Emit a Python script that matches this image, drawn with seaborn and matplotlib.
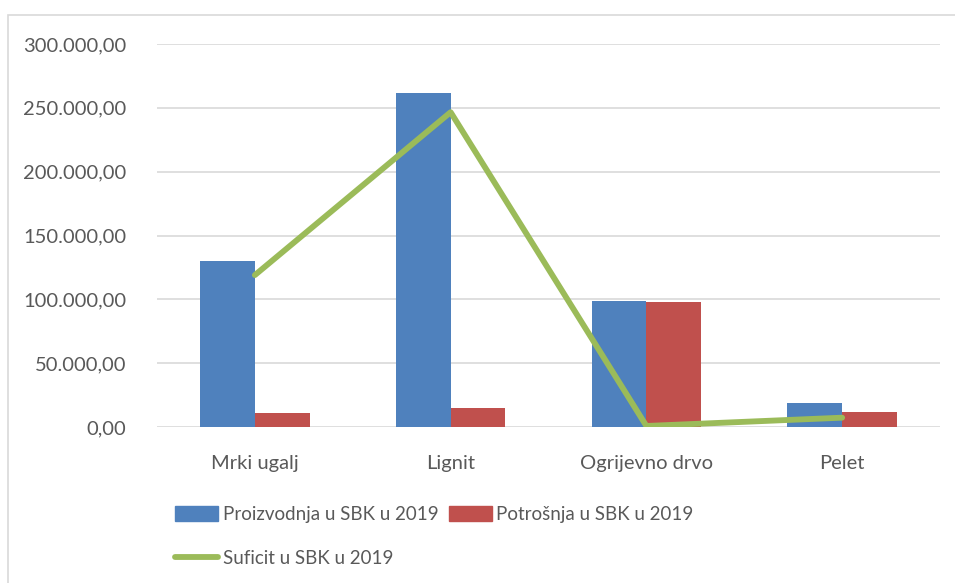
import pandas as pd
import matplotlib
matplotlib.use("Agg")
import matplotlib.pyplot as plt
import seaborn as sns
from matplotlib.patches import Rectangle, Patch
from matplotlib.lines import Line2D
from matplotlib.ticker import FuncFormatter

categories = ["Mrki ugalj", "Lignit", "Ogrijevno drvo", "Pelet"]
proizvodnja = [130000, 261500, 98700, 18800]
potrosnja = [11000, 14900, 97900, 11500]
suficit = [119000, 246600, 800, 7300]

series_names = ["Proizvodnja u SBK u 2019", "Potrošnja u SBK u 2019"]
line_name = "Suficit u SBK u 2019"

df = pd.DataFrame({
    "Kategorija": categories * 2,
    "Vrijednost": proizvodnja + potrosnja,
    "Serija": [series_names[0]] * 4 + [series_names[1]] * 4,
})

sns.set_style("white")
plt.rcParams["font.family"] = ["Lato", "DejaVu Sans"]

grey_text = "#595959"
fig = plt.figure(figsize=(9.55, 5.83), dpi=100)
ax = fig.add_axes([0.1644, 0.2676, 0.8199, 0.6569])

sns.barplot(data=df, x="Kategorija", y="Vrijednost", hue="Serija",
            palette=["#4F81BD", "#C0504D"], width=0.56, saturation=1,
            edgecolor="none", ax=ax, legend=False, zorder=2)
sns.lineplot(x=categories, y=suficit, color="#9BBB59", linewidth=4.2,
             ax=ax, zorder=3, solid_capstyle="round")

ax.set_ylim(0, 300000)
ax.set_yticks(range(0, 300001, 50000))
ax.yaxis.set_major_formatter(FuncFormatter(
    lambda v, p: f"{v:,.2f}".replace(",", "X").replace(".", ",").replace("X", ".")))
ax.set_xlim(-0.5, 3.5)
ax.grid(axis="y", color="#d9d9d9", linewidth=1.2, zorder=0)
ax.set_axisbelow(True)
for s in ax.spines.values():
    s.set_visible(False)
ax.set_xlabel("")
ax.set_ylabel("")
ax.tick_params(axis="both", length=0, labelsize=14.5, colors=grey_text)
ax.tick_params(axis="y", pad=22)
ax.tick_params(axis="x", pad=20)

# legend
handles = [Patch(color="#4F81BD"),
           Line2D([], [], color="#9BBB59", linewidth=4.2, solid_capstyle="round"),
           Patch(color="#C0504D")]
labels = [series_names[0], line_name, series_names[1]]
leg = fig.legend(handles, labels, ncol=2, loc="upper left",
                 bbox_to_anchor=(0.183, 0.132), frameon=False,
                 borderpad=0, borderaxespad=0,
                 fontsize=13.5, labelcolor=grey_text, handlelength=2.3,
                 handleheight=0.8, handletextpad=0.25, columnspacing=0.55,
                 labelspacing=1.45)

# outer chart border
fig.patches.append(Rectangle((8 / 955, -0.01), 1.0, 1 - 15 / 583 + 0.01,
                             transform=fig.transFigure, fill=False,
                             edgecolor="#d9d9d9", linewidth=1.2))

fig.savefig("out.png", dpi=100)
